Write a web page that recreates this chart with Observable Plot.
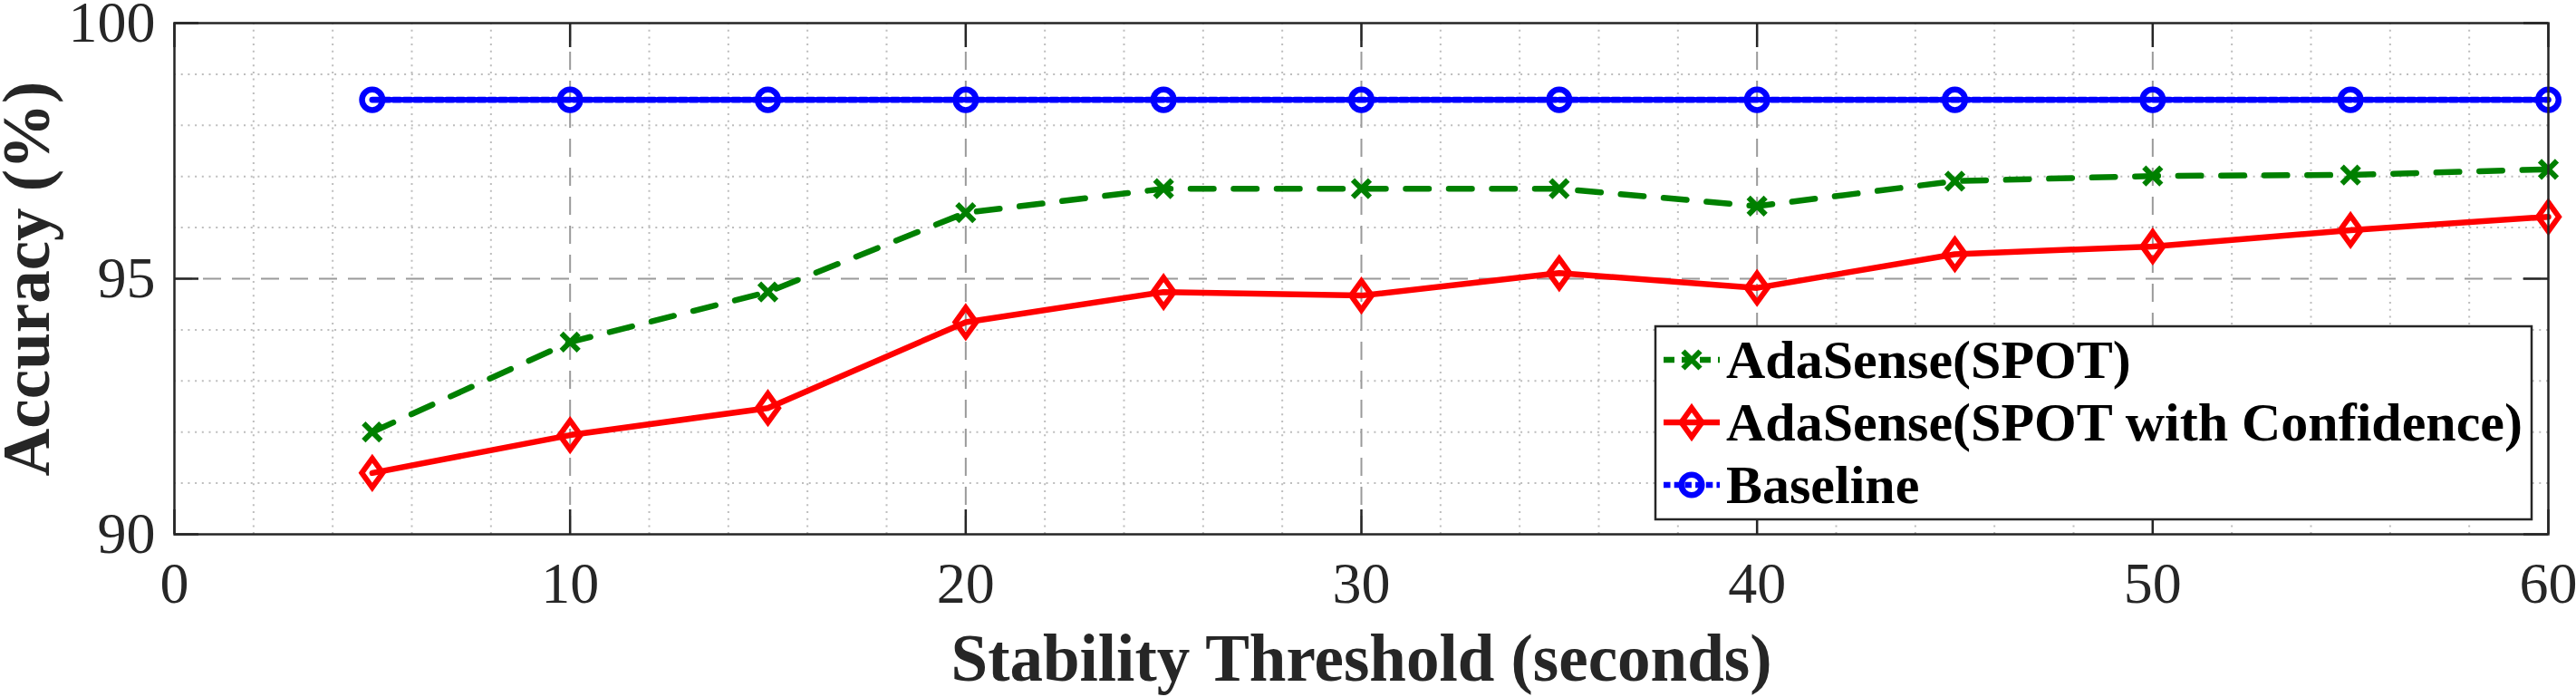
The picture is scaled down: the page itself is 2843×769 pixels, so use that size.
<!DOCTYPE html>
<html>
<head>
<meta charset="utf-8">
<script src="https://cdn.jsdelivr.net/npm/d3@7"></script>
<script src="https://cdn.jsdelivr.net/npm/@observablehq/plot@0.6"></script>
<style>
  html, body { margin: 0; padding: 0; background: #fff; }
  #chart { position: relative; width: 2843px; height: 769px; }
</style>
</head>
<body>
<div id="chart"></div>
<script>
// ---- data ----
const thresholds = [5, 10, 15, 20, 25, 30, 35, 40, 45, 50, 55, 60];
const spot       = [92.0, 93.76, 94.74, 96.29, 96.76, 96.76, 96.76, 96.42, 96.91, 97.01, 97.03, 97.14];
const spotConf   = [91.2, 91.94, 92.47, 94.15, 94.74, 94.67, 95.11, 94.82, 95.48, 95.63, 95.95, 96.21];
const baseline   = [98.5, 98.5, 98.5, 98.5, 98.5, 98.5, 98.5, 98.5, 98.5, 98.5, 98.5, 98.5];
const seriesNames = ["AdaSense(SPOT)", "AdaSense(SPOT with Confidence)", "Baseline"];
const xTicks = [0, 10, 20, 30, 40, 50, 60];
const yTicks = [90, 95, 100];
const xMinorTicks = [2, 4, 6, 8, 12, 14, 16, 18, 22, 24, 26, 28, 32, 34, 36, 38, 42, 44, 46, 48, 52, 54, 56, 58];
const yMinorTicks = [91, 92, 93, 94, 96, 97, 98, 99];
const xLabel = "Stability Threshold (seconds)";
const yLabel = "Accuracy (%)";

// ---- build tables ----
const series = [spot, spotConf, baseline];
const rows = series.map((vals, s) => thresholds.map((t, i) => ({x: t, y: vals[i], s: seriesNames[s]})));

// ---- styles ----
const W = 2843, H = 769;
const mL = 192, mR = 31, mT = 25, mB = 180;
const innerW = W - mL - mR, innerH = H - mT - mB;
const tickLen = 27;
const FONT = "'Liberation Serif', 'Times New Roman', Times, serif";
const AX = "#262626";

const crossSym = {draw(ctx, size) { const r = Math.sqrt(size / Math.PI); ctx.moveTo(-r, -r); ctx.lineTo(r, r); ctx.moveTo(-r, r); ctx.lineTo(r, -r); }};
const diamondSym = {draw(ctx, size) { const r = Math.sqrt(size / Math.PI); const w = r * 0.72; ctx.moveTo(0, -r); ctx.lineTo(w, 0); ctx.lineTo(0, r); ctx.lineTo(-w, 0); ctx.closePath(); }};

const styles = [
  {color: "#008000", dash: "25.5,22", legendDash: "12,8", symbol: crossSym, r: 9.5, lw: 6.5, mw: 6},
  {color: "#ff0000", dash: null, legendDash: null, symbol: diamondSym, r: 16, lw: 6.5, mw: 6},
  {color: "#0000ff", dash: "7.5,4.2", legendDash: "7.5,4.2", symbol: "circle", r: 11.3, lw: 6.7, mw: 6.5}
];

const marks = [
  Plot.gridX(xMinorTicks, {stroke: "#bdbdbd", strokeOpacity: 1, strokeWidth: 2, strokeDasharray: "2,5.7"}),
  Plot.gridY(yMinorTicks, {stroke: "#bdbdbd", strokeOpacity: 1, strokeWidth: 2, strokeDasharray: "2,5.7"}),
  Plot.gridX(xTicks.slice(1, -1), {stroke: "#9a9a9a", strokeOpacity: 1, strokeWidth: 2, strokeDasharray: "20,12"}),
  Plot.gridY(yTicks.slice(1, -1), {stroke: "#9a9a9a", strokeOpacity: 1, strokeWidth: 2, strokeDasharray: "20,12"}),
];
rows.forEach((data, k) => {
  const st = styles[k];
  marks.push(Plot.line(data, {x: "x", y: "y", stroke: st.color, strokeWidth: st.lw, strokeDasharray: st.dash}));
  marks.push(Plot.dot(data, {x: "x", y: "y", symbol: () => st.symbol, r: st.r, stroke: st.color, strokeWidth: st.mw, fill: "none"}));
});
marks.push(
  Plot.tickX(xTicks, {x: d => d, insetTop: innerH - tickLen, stroke: AX, strokeWidth: 2.5}),
  Plot.tickX(xTicks, {x: d => d, insetBottom: innerH - tickLen, stroke: AX, strokeWidth: 2.5}),
  Plot.tickY(yTicks, {y: d => d, insetRight: innerW - tickLen, stroke: AX, strokeWidth: 2.5}),
  Plot.tickY(yTicks, {y: d => d, insetLeft: innerW - tickLen, stroke: AX, strokeWidth: 2.5}),
  Plot.frame({stroke: AX, strokeWidth: 2.5}),
  Plot.axisX({ticks: xTicks, tickSize: 0, tickPadding: 30, fontSize: 64, label: null, fill: AX}),
  Plot.axisY({ticks: yTicks, tickSize: 0, tickPadding: 21, fontSize: 64, label: null, fill: AX}),
  Plot.text([yLabel], {text: d => d, frameAnchor: "left", dx: -139, rotate: -90, fontSize: 73, fontWeight: "bold", lineAnchor: "bottom", textAnchor: "middle", fill: AX}),
  Plot.text([xLabel], {text: d => d, frameAnchor: "bottom", dy: 161, fontSize: 73, fontWeight: "bold", lineAnchor: "bottom", textAnchor: "middle", fill: AX})
);

const chart = Plot.plot({
  width: W, height: H,
  marginLeft: mL, marginRight: mR, marginTop: mT, marginBottom: mB,
  x: {domain: [0, 60]},
  y: {domain: [90, 100]},
  style: {fontFamily: FONT, background: "#fff", color: AX, overflow: "visible"},
  marks
});

// ---- legend (inside plot area, lower right) ----
const svg = d3.select(chart);
const lg = svg.append("g").attr("class", "legend");
const box = {x: 1827, y: 360, w: 967, h: 213};
lg.append("rect").attr("x", box.x).attr("y", box.y).attr("width", box.w).attr("height", box.h)
  .attr("fill", "#fff").attr("stroke", AX).attr("stroke-width", 2.5);
seriesNames.forEach((name, k) => {
  const st = styles[k];
  const cy = 397 + k * 69;
  lg.append("line").attr("x1", 1836).attr("x2", 1898).attr("y1", cy).attr("y2", cy)
    .attr("stroke", st.color).attr("stroke-width", st.lw)
    .attr("stroke-dasharray", st.legendDash);
  const sym = st.symbol === "circle" ? d3.symbolCircle : st.symbol;
  lg.append("path").attr("transform", `translate(1867,${cy})`)
    .attr("d", d3.symbol(sym, Math.PI * st.r * st.r)())
    .attr("fill", "none").attr("stroke", st.color).attr("stroke-width", st.mw);
  lg.append("text").attr("x", 1905).attr("y", cy + 20).attr("text-anchor", "start")
    .attr("font-family", FONT).attr("font-size", 60).attr("font-weight", "bold").attr("fill", "#000")
    .text(name);
});

document.getElementById("chart").appendChild(chart);
</script>
</body>
</html>
